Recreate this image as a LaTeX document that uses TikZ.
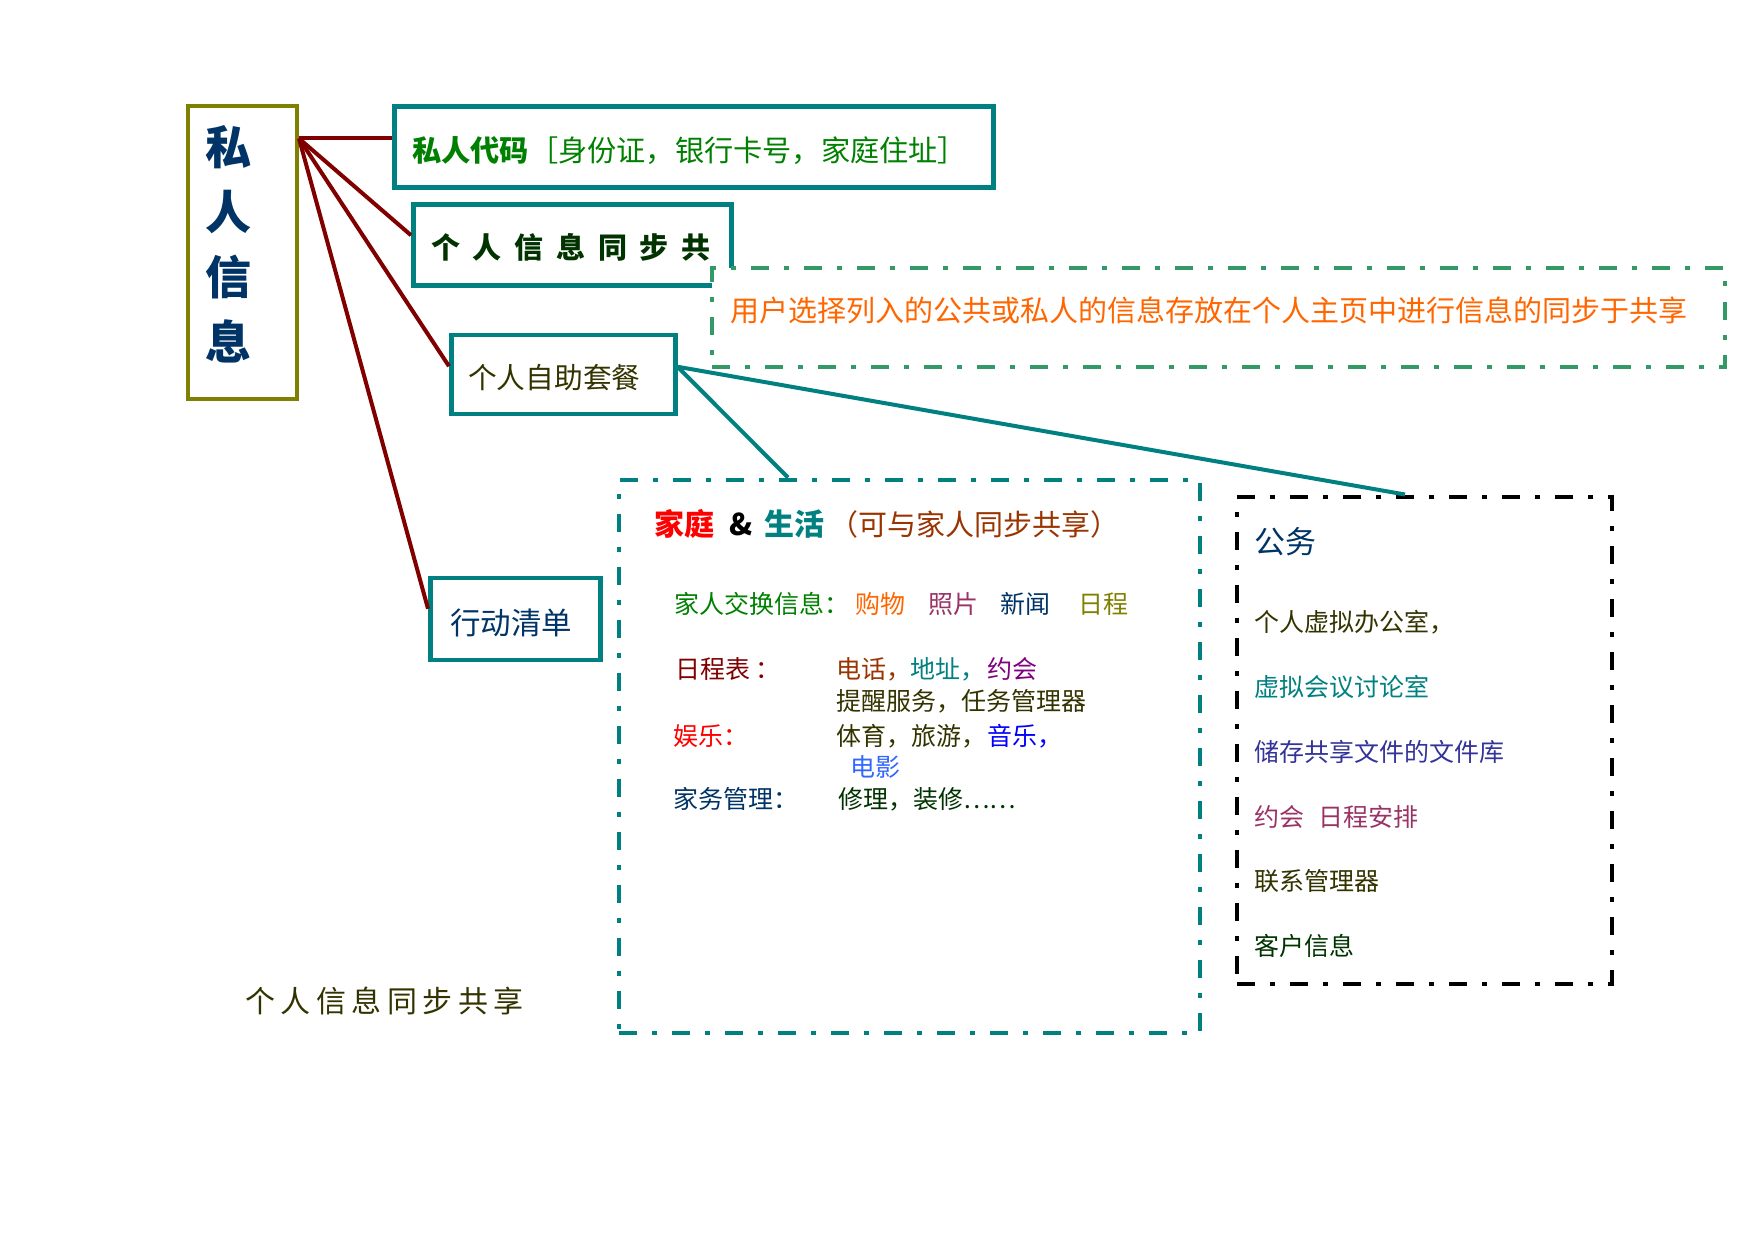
\documentclass[tikz,border=0pt]{standalone}
\usepackage{fontspec}
\setmainfont{Noto Sans CJK SC}
\usetikzlibrary{positioning}

\definecolor{boxolive}{HTML}{808000}
\definecolor{boxteal}{HTML}{008080}
\definecolor{lineRed}{HTML}{800000}
\definecolor{noteGreen}{HTML}{339966}
\definecolor{txtNavy}{HTML}{003366}
\definecolor{txtGreen}{HTML}{008000}
\definecolor{txtOlive}{HTML}{333300}
\definecolor{txtForest}{HTML}{003300}
\definecolor{txtOrange}{HTML}{FF6600}
\definecolor{txtBrown}{HTML}{993300}
\definecolor{txtPlum}{HTML}{993366}
\definecolor{txtPurple}{HTML}{800080}
\definecolor{txtIndigo}{HTML}{333399}
\definecolor{txtSky}{HTML}{3366FF}
\definecolor{txtYellow}{HTML}{808000}
\newcommand{\fsz}[1]{\fontsize{#1}{#1}\selectfont}

\begin{document}
\begin{tikzpicture}[x=1pt, y=-1pt]
    \tikzstyle{tbox} = [draw=boxteal, line width=4.5pt, anchor=north west, align=left, inner ysep=0pt];
    \tikzstyle{dbox} = [line width=4pt, dash pattern=on 18pt off 15pt on 5pt off 15pt, anchor=north west, inner sep=0pt];
    \tikzstyle{txt} = [anchor=base west, inner sep=0pt, font=\fsz{25}];
    \tikzstyle{rline} = [draw=lineRed, line width=4pt];
    \tikzstyle{tline} = [draw=boxteal, line width=4pt];
    \useasboundingbox (2,1.5) rectangle (1756,1242.5);

    % left column
    \node [draw=boxolive, line width=4pt, anchor=north west, minimum width=109pt, minimum height=292pt,
      text width=75pt, inner xsep=17pt, inner ysep=4pt, align=left, text=txtNavy,
      font=\fontsize{46}{65}\selectfont\bfseries] (info) at (188,106) {私\\人\\信\\息\par\vspace{16pt}};
    \node [tbox, text width=563pt, inner xsep=18pt, text height=54.6pt, text depth=26.4pt,
      font=\fsz{29.2}, text=txtGreen] (code) at (394,106) {{\bfseries 私人代码}［身份证，银行卡号，家庭住址］};
    \node [tbox, text width=282pt, inner xsep=18pt, text height=54pt, text depth=27pt,
      font=\fsz{29}\bfseries, text=txtForest] (sync) at (413,204) {\spaceskip=12.7pt 个 人 信 息 同 步 共};
    \node [dbox, draw=noteGreen, fill=white, text width=977pt, inner xsep=18pt, text height=53pt, text depth=45pt,
      align=left, font=\fsz{29}, text=txtOrange] (note) at (712,268) {用户选择列入的公共或私人的信息存放在个人主页中进行信息的同步于共享};
    \node [tbox, text width=190pt, inner xsep=17pt, text height=54pt, text depth=25pt,
      font=\fsz{28.7}, text=txtOlive] (self) at (451,334) {个人自助套餐};
    \node [tbox, text width=130pt, inner xsep=20pt, text height=57pt, text depth=25pt,
      font=\fsz{30.5}, text=txtNavy] (act) at (430,577) {行动清单};
    \node [txt, font=\fsz{30}, text=txtOlive] (footer) at (247,1013.5) {\spaceskip=5.5pt 个 人 信 息 同 步 共 享};

    % the two dashed areas
    \node [dbox, draw=boxteal, minimum width=581pt, minimum height=553pt] (fam) at (619,479) {};
    \node [dbox, draw=black, minimum width=375pt, minimum height=487pt] (work) at (1237,496) {};

    % connectors
    \coordinate (hub) at ([yshift=-34pt]info.north east);
    \draw [rline] (hub) -- (hub -| code.west);
    \draw [rline] (hub) -- ([yshift=10pt]sync.west);
    \draw [rline] (hub) -- ([yshift=8pt]self.west);
    \draw [rline] (hub) -- ([yshift=10pt]act.west);
    \draw [tline] ([yshift=7.5pt]self.east) -- ([xshift=-121.5pt]fam.north);
    \draw [tline] ([yshift=7.5pt]self.east) -- ([xshift=-19.5pt]work.north);

    % family & life
    \node [txt, font=\fsz{30}\bfseries] (famtitle) at (656,537) {\textcolor{red}{家庭}\hspace{15pt}\&\hspace{12pt}\textcolor{boxteal}{生活}\hspace{5pt}{\fsz{29}\mdseries\color{txtBrown}（可与家人同步共享）}};
    \node [txt, text=txtGreen] (swap) at (676,615) {家人交换信息：};
    \node [txt, text=txtOrange] (shop) at (857,615) {购物};
    \node [txt, text=txtPlum] (photo) at (930,615) {照片};
    \node [txt, text=txtNavy] (news) at (1002,615) {新闻};
    \node [txt, text=txtYellow] (plan) at (1080,615) {日程};
    \node [txt, text=lineRed] (sched) at (677,680) {日程表 ：};
    \node [txt, text=txtBrown] (phone) at (838,680) {电话，};
    \node [txt, text=boxteal] (addr) at (912,680) {地址，};
    \node [txt, text=txtPurple] (date) at (989,680) {约会};
    \node [txt, text=txtOlive] (remind) at (838,712) {提醒服务，任务管理器};
    \node [txt, text=red] (fun) at (675,746.5) {娱乐：};
    \node [txt, text=txtOlive] (sport) at (838,746.5) {体育，旅游，};
    \node [txt, text=blue] (music) at (989,746.5) {音乐，};
    \node [txt, text=txtSky] (film) at (852,777.5) {电影};
    \node [txt, text=txtNavy] (house) at (675,810) {家务管理：};
    \node [txt, text=txtForest] (repair) at (840,810) {修理，装修……};

    % business
    \node [txt, font=\fsz{31}, text=txtNavy] (biz) at (1256,554.5) {公务};
    \node [txt, text=txtOlive] (office) at (1256,633) {个人虚拟办公室，};
    \node [txt, text=boxteal] (meet) at (1256,697.5) {虚拟会议讨论室};
    \node [txt, text=txtIndigo] (files) at (1256,762.5) {储存共享文件的文件库};
    \node [txt, text=txtPlum] (agenda) at (1256,827.5) {约会\hspace{14pt}日程安排};
    \node [txt, text=txtOlive] (contact) at (1256,892) {联系管理器};
    \node [txt, text=txtForest] (client) at (1256,957) {客户信息};
\end{tikzpicture}
\end{document}
